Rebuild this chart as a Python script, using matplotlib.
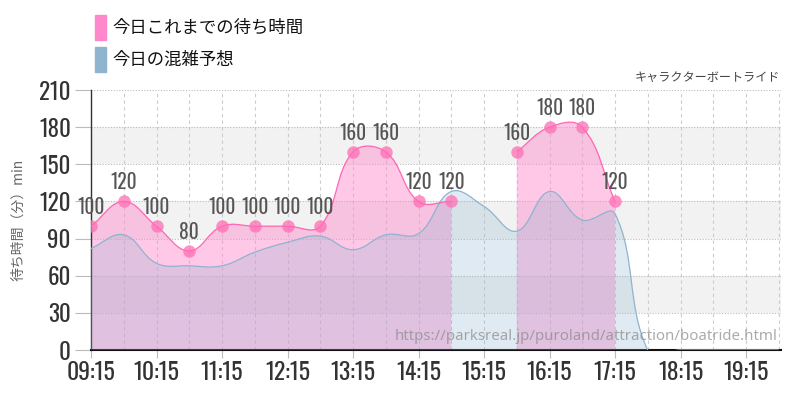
import numpy as np
import matplotlib
matplotlib.use("Agg")
import matplotlib.pyplot as plt
from matplotlib.path import Path
from matplotlib.patches import PathPatch, Rectangle
from matplotlib import font_manager

# data
times = ["09:15", "09:45", "10:15", "10:45", "11:15", "11:45", "12:15", "12:45",
         "13:15", "13:45", "14:15", "14:45", "15:15", "15:45", "16:15", "16:45",
         "17:15", "17:45", "18:15", "18:45", "19:15", "19:45"]
wait_times = [100, 120, 100, 80, 100, 100, 100, 100, 160, 160, 120, 120,
              None, 160, 180, 180, 120, None, None, None, None, None]
congestion = [82, 93, 70, 68, 68, 79, 87, 92, 81, 93, 94, 128,
              116, 96, 128, 105, 110, 0, 0, 0, 0, 0]
hour_labels = ["09:15", "10:15", "11:15", "12:15", "13:15", "14:15",
               "15:15", "16:15", "17:15", "18:15", "19:15"]
y_ticks = [0, 30, 60, 90, 120, 150, 180, 210]

legend_wait = "今日これまでの待ち時間"
legend_cong = "今日の混雑予想"
title = "キャラクターボートライド"
ylabel = "待ち時間（分）min"
watermark = "https://parksreal.jp/puroland/attraction/boatride.html"

names = {f.name for f in font_manager.fontManager.ttflist}
NUM = next((n for n in ["Oswald", "Roboto Condensed", "Barlow Condensed",
                        "Asap Condensed"] if n in names), "DejaVu Sans")
CJK = ["Noto Sans CJK JP", "DejaVu Sans"]

PINK = "#FF88CC"
PINK_LINE = "#FF66B2"
BLUE = "#8EB4D0"


def to_min(t):
    h, m = t.split(":")
    return int(h) * 60 + int(m)


x_all = np.array([to_min(t) for t in times], dtype=float)

fig = plt.figure(figsize=(8, 4), dpi=100)
ax = fig.add_axes([91 / 800, 50 / 400, 690 / 800, 260 / 400])
ax.set_xlim(to_min("09:15"), to_min("09:15") + 690 / (65.5 / 60))
ax.set_ylim(0, 210)


def bezier(xs, ys, tension=0.4):
    # Chart.js-like spline, computed in pixel space
    pts = ax.transData.transform(np.column_stack([xs, ys]))
    n = len(pts)
    cprev = pts.copy()
    cnext = pts.copy()
    for i in range(n):
        p0, p1, p2 = pts[max(i - 1, 0)], pts[i], pts[min(i + 1, n - 1)]
        d01 = np.hypot(*(p1 - p0))
        d12 = np.hypot(*(p2 - p1))
        tot = d01 + d12
        if tot == 0:
            continue
        cprev[i] = p1 - tension * d01 / tot * (p2 - p0)
        cnext[i] = p1 + tension * d12 / tot * (p2 - p0)
    verts = [pts[0]]
    codes = [Path.MOVETO]
    for i in range(n - 1):
        verts += [cnext[i], cprev[i + 1], pts[i + 1]]
        codes += [Path.CURVE4] * 3
    verts = ax.transData.inverted().transform(np.array(verts))
    return verts, codes


def segments(xs, vals):
    segs, cur = [], []
    for x, v in zip(xs, vals):
        if v is None:
            if cur:
                segs.append(cur)
            cur = []
        else:
            cur.append((x, v))
    if cur:
        segs.append(cur)
    return segs


def draw_series(vals, fill_color, alpha, line_color, zf, zl):
    for seg in segments(x_all, vals):
        sx = np.array([p[0] for p in seg])
        sy = np.array([p[1] for p in seg], dtype=float)
        verts, codes = bezier(sx, sy)
        fill_v = np.vstack([verts, [[sx[-1], 0], [sx[0], 0], [sx[0], 0]]])
        fill_c = codes + [Path.LINETO, Path.LINETO, Path.CLOSEPOLY]
        ax.add_patch(PathPatch(Path(fill_v, fill_c), facecolor=fill_color, alpha=alpha,
                               edgecolor="none", zorder=zf))
        ax.add_patch(PathPatch(Path(verts, codes), facecolor="none", edgecolor=line_color,
                               lw=0.9, zorder=zl))


# background bands
for lo in (30, 90, 150):
    ax.axhspan(lo, lo + 30, color="#F2F2F2", zorder=0, lw=0)

draw_series(wait_times, PINK, 0.46, PINK_LINE, 2, 4)
draw_series(congestion, BLUE, 0.27, BLUE, 3, 3.5)

wx = [x for x, v in zip(x_all, wait_times) if v is not None]
wy = [v for v in wait_times if v is not None]
ax.plot(wx, wy, "o", color="#FF6EB4", alpha=0.75, ms=9, mec="none", zorder=5)
for x, v in zip(wx, wy):
    ax.annotate(str(v), (x, v), xytext=(0, 6.5), textcoords="offset points",
                ha="center", va="bottom", color="#555555", zorder=6,
                family=NUM, fontsize=14)

# axes styling
ax.set_yticks(y_ticks)
ax.set_yticklabels([str(v) for v in y_ticks], color="#333333", family=NUM, fontsize=16.5)
ax.set_xticks([to_min(t) for t in hour_labels])
ax.set_xticklabels(hour_labels, color="#333333", family=NUM, fontsize=17)
ax.set_xticks(x_all, minor=True)
ax.tick_params(axis="y", length=11.5, pad=3, color="#BBBBBB")
ax.tick_params(axis="x", which="major", length=6, pad=2, color="#BBBBBB")
ax.tick_params(axis="x", which="minor", length=0)
ax.grid(axis="y", color="#BBBBBB", ls=(0, (1, 1.5)), lw=0.8, zorder=1)
ax.grid(axis="x", which="both", color="#CCCCCC", ls=(0, (3, 3)), lw=0.8, zorder=1)
ax.set_axisbelow(True)
for s in ("top", "right"):
    ax.spines[s].set_visible(False)
ax.spines["left"].set_color("#333333")
ax.spines["left"].set_linewidth(1)
ax.spines["bottom"].set_color("#111111")
ax.spines["bottom"].set_linewidth(1.5)

ax.set_ylabel(ylabel, family=CJK, fontsize=10, color="#666666")
ax.yaxis.set_label_coords(-0.095, 0.5)

fig.text(780 / 800, 1 - 77 / 400, title, family=CJK, fontsize=8.7, color="#444444",
         ha="right", va="center")
fig.text(778 / 800, 1 - 336 / 400, watermark, family="Noto Sans", fontsize=10.8,
         color="#888888", alpha=0.7, ha="right", va="center", zorder=10)

# legend
for i, (lab, col) in enumerate([(legend_wait, "#FF88CC"), (legend_cong, "#8EB4D0")]):
    y0 = 1 - (40 + 32 * i) / 400
    fig.patches.append(Rectangle((95 / 800, y0), 11 / 800, 25 / 400, color=col,
                                 transform=fig.transFigure, figure=fig))
    fig.text(112 / 800, y0 + 12.5 / 400, lab, family=CJK, fontsize=12.5,
             color="#111111", ha="left", va="center")

fig.savefig("out.png", dpi=100)
